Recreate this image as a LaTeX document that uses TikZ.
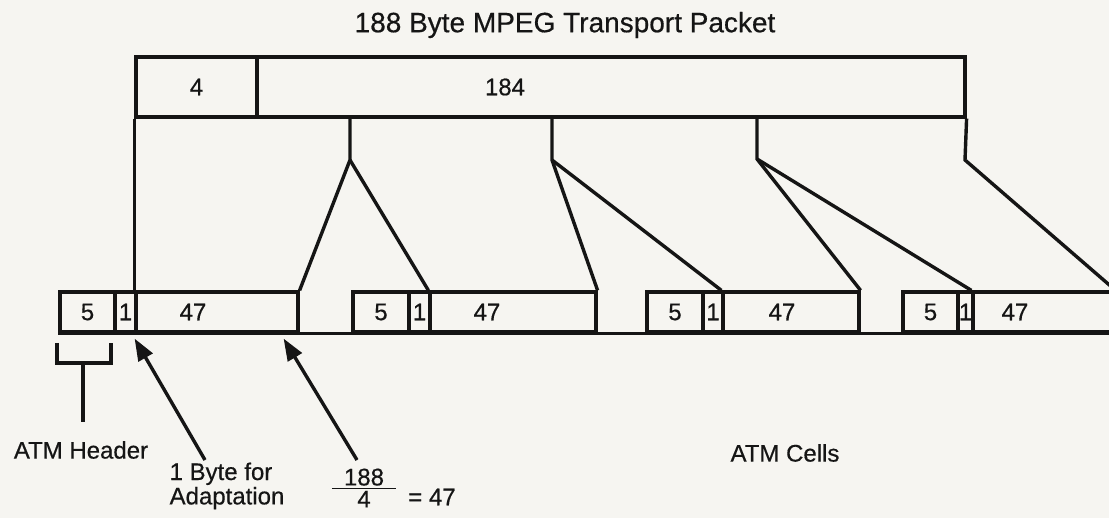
\documentclass[tikz,border=0pt]{standalone}
\usepackage{fontspec}
\setmainfont{Liberation Sans}[UprightFeatures={FakeBold=0.5}]
\usetikzlibrary{arrows.meta, positioning, fit, calc}
\definecolor{paper}{HTML}{F6F5F1}
\definecolor{ink}{HTML}{151515}
\tikzset{
  % packet and cell fields
  field/.style={
    rectangle, draw=ink, fill=none, line width=1.6pt, inner sep=0pt,
  },
  % free text
  lbl/.style={font=\fontsize{12}{11}\selectfont, text=ink, inner sep=1pt},
  % lines that split the packet over the cells
  split/.style={draw=ink, line width=1.7pt, line join=miter},
  % pointers from the notes
  ptr/.style={-{Triangle[length=11pt, width=8pt]}, line width=1.7pt, draw=ink, fill=ink},
}

\begin{document}
\begin{tikzpicture}[x=0.5pt, y=-0.5pt]
  \useasboundingbox[fill=paper] (0,0) rectangle (1109,518);

  % MPEG packet
  \node[lbl, font=\fontsize{14}{14}\selectfont] (title) at (565,25) {188 Byte MPEG Transport Packet};
  \node[field, fit={(136,57) (257,117)}] (hdr) {};
  \node[lbl] (hdrtxt) at (hdr.center) {4};
  \node[field, fit={(257,57) (965,117)}] (pay) {};
  \node[lbl] (paytxt) at (505,87) {184};

  % ATM cells
  \node[field, fit={(60,292) (115,332)}] (c1h) {};
  \node[field, fit={(115,292) (136,332)}] (c1a) {};
  \node[field, fit={(136,292) (298,332)}] (c1p) {};
  \node[lbl] at (c1h.center) {5};
  \node[lbl] at (c1a.center) {1};
  \node[lbl] (c1t) at (193,312) {47};

  \node[field, fit={(353,292) (409,332)}] (c2h) {};
  \node[field, fit={(409,292) (430,332)}] (c2a) {};
  \node[field, fit={(430,292) (596,332)}] (c2p) {};
  \node[lbl] at (c2h.center) {5};
  \node[lbl] at (c2a.center) {1};
  \node[lbl] (c2t) at (487,312) {47};

  \node[field, fit={(647,292) (703,332)}] (c3h) {};
  \node[field, fit={(703,292) (723,332)}] (c3a) {};
  \node[field, fit={(723,292) (859,332)}] (c3p) {};
  \node[lbl] at (c3h.center) {5};
  \node[lbl] at (c3a.center) {1};
  \node[lbl] (c3t) at (782,312) {47};

  \node[field, fit={(903,292) (958,332)}] (c4h) {};
  \node[field, fit={(958,292) (973,332)}] (c4a) {};
  \node[field, fit={(973,292) (1114,332)}] (c4p) {};
  \node[lbl] at (c4h.center) {5};
  \node[lbl] at (c4a.center) {1};
  \node[lbl] (c4t) at (1015,312) {47};

  \draw[split] (c1h.south west) -- (c4p.south east);

  % splitting the payload
  \coordinate (s1) at (350,160);
  \coordinate (s2) at (552,160);
  \coordinate (s3) at (757,159);
  \coordinate (s4) at (965,160);
  \draw[split] (hdr.south west) -- (c1p.north west);
  \draw[split] (s1 |- pay.south) -- (s1) -- (c1p.north east);
  \draw[split] (s1) -- (c2p.north west);
  \draw[split] (s2 |- pay.south) -- (s2) -- (c2p.north east);
  \draw[split] (s2) -- (c3p.north west);
  \draw[split] (s3 |- pay.south) -- (s3) -- (c3p.north east);
  \draw[split] (s3) -- (c4p.north west);
  \draw[split] (pay.south east) -- (s4) -- (c4p.north east);

  % notes
  \node[lbl] (atmhdr) at (81,450) {ATM Header};
  \node[lbl, align=left] (adapt) at (227,486) {1 Byte for\\Adaptation};
  \node[lbl, align=center] (frac) at (364,488) {\underline{\hspace{6pt}188\hspace{6pt}}\\4};
  \node[lbl] (eq) at (432,497) {= 47};
  \node[lbl] (cells) at (785,453) {ATM Cells};

  \coordinate (brl) at (57,343);
  \coordinate (brr) at (111,343);
  \coordinate (brm) at (83,363);
  \draw[split] (brl) -- (brl |- brm) -- (brr |- brm) -- (brr);
  \draw[split] (brm) -- (brm |- 0,422);

  \coordinate (t1) at (205,460);
  \coordinate (t2) at (357,460);
  \draw[ptr] (t1) -- ([shift={(-3,5)}]c1a.south east);
  \draw[ptr] (t2) -- ([shift={(-16,5)}]c1p.south east);

\end{tikzpicture}
\end{document}
